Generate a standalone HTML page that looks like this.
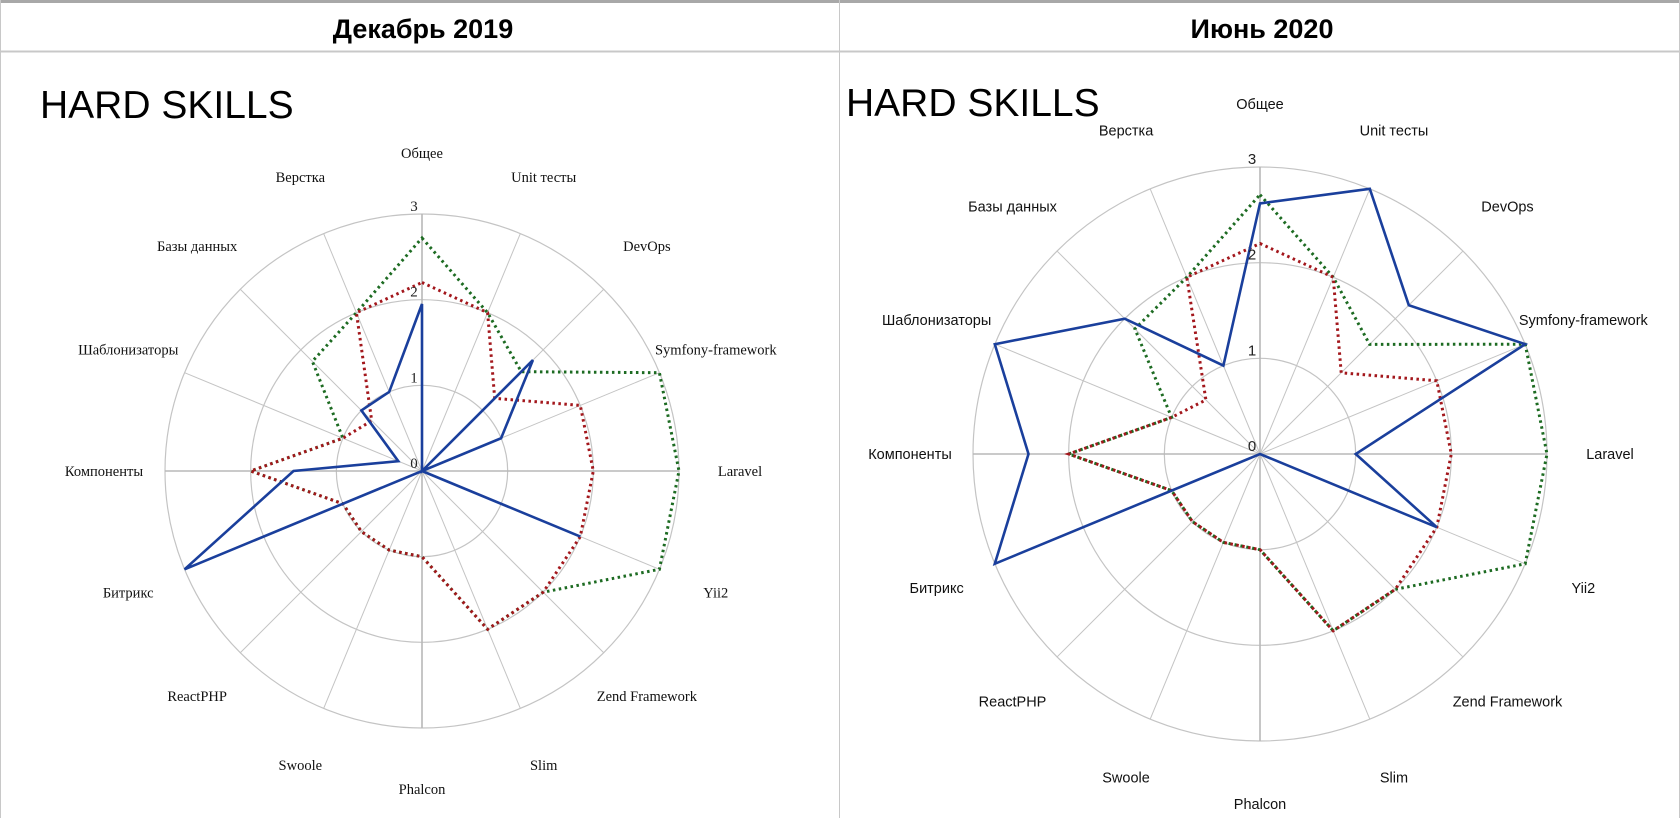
<!DOCTYPE html>
<html><head><meta charset="utf-8">
<style>
html,body{margin:0;padding:0;background:#fff;}
#wrap{position:relative;width:1680px;height:818px;overflow:hidden;background:#fff;}
</style></head>
<body>
<div id="wrap">
<svg id="svg" width="1680" height="818" xmlns="http://www.w3.org/2000/svg">
  <rect x="0" y="0" width="1680" height="3" fill="#a8a8a8"/>
  <line x1="0.5" y1="0" x2="0.5" y2="818" stroke="#c8c8c8"/>
  <line x1="1679.5" y1="0" x2="1679.5" y2="818" stroke="#c8c8c8"/>
  <line x1="0" y1="51.5" x2="1680" y2="51.5" stroke="#c8c8c8" stroke-width="2"/>
  <line x1="839.5" y1="0" x2="839.5" y2="818" stroke="#c8c8c8"/>
  <text x="423" y="38" text-anchor="middle" font-family="'Liberation Sans',sans-serif" font-weight="bold" font-size="27" fill="#000">Декабрь 2019</text>
  <text x="1262" y="38" text-anchor="middle" font-family="'Liberation Sans',sans-serif" font-weight="bold" font-size="27" fill="#000">Июнь 2020</text>
  <text x="40" y="118" font-family="'Liberation Sans',sans-serif" font-size="39" fill="#000">HARD SKILLS</text>
  <text x="846" y="116" font-family="'Liberation Sans',sans-serif" font-size="39" fill="#000">HARD SKILLS</text>
  <g id="left"></g>
  <g id="right"></g>
</svg>
</div>
<script>
const categories = ["Общее","Unit тесты","DevOps","Symfony-framework","Laravel","Yii2","Zend Framework","Slim","Phalcon","Swoole","ReactPHP","Битрикс","Компоненты","Шаблонизаторы","Базы данных","Верстка"];
const tickValues = [0,1,2,3];
const leftBlue  = [1.95,0,1.83,1,0,2,0,0,0,0,0,3,1.5,0.3,1,1];
const leftRed   = [2.2,2,1.2,2,2,2,2,2,1,1,1,1,2,1,0.83,2];
const leftGreen = [2.72,2,1.64,3,3,3,2,2,1,1,1,1,2,1,1.81,2];
const rightBlue  = [2.62,3,2.2,3,1,2,0,0,0,0,0,3,2.42,3,2,1];
const rightRed   = [2.2,2,1.2,2,2,2,2,2,1,1,1,1,2,1,0.8,2];
const rightGreen = [2.71,2,1.62,3,3,3,2,2,1,1,1,1,2,1,1.85,2];

const NS = "http://www.w3.org/2000/svg";
function mk(tag, attrs, parent){
  const e = document.createElementNS(NS, tag);
  for (const k in attrs) e.setAttribute(k, attrs[k]);
  parent.appendChild(e);
  return e;
}
function drawRadar(g, cx, cy, R, labelR, font, series){
  const maxV = 3;
  const n = categories.length;
  const ang = i => i * 2 * Math.PI / n;
  const pt = (i, v) => [cx + Math.sin(ang(i)) * R * v / maxV, cy - Math.cos(ang(i)) * R * v / maxV];
  tickValues.forEach(t => {
    if (t === 0) return;
    const c = mk("circle", {cx: cx, cy: cy, r: R * t / maxV, fill: "none", stroke: "#c4c4c4", "stroke-width": 1.2}, g);
    
    
  });
  categories.forEach((c, i) => {
    const [x, y] = pt(i, maxV);
    const l = mk("line", {x1: cx, y1: cy, x2: x, y2: y, stroke: i % 4 === 0 ? "#b8b8b8" : "#c4c4c4", "stroke-width": i % 4 === 0 ? 1.6 : 1}, g);
    
    
    const lx = cx + Math.sin(ang(i)) * labelR, ly = cy - Math.cos(ang(i)) * labelR;
    const tx = mk("text", {x: lx, y: ly + 5, "text-anchor": "middle", "font-family": font, "font-size": 14.5, fill: "#111"}, g);
    tx.textContent = c;
    
    
  });
  series.forEach(s => {
    const pts = s.values.map((v, i) => pt(i, v).map(q => q.toFixed(1)).join(",")).join(" ");
    const p = mk("polygon", {points: pts, fill: "none", stroke: s.color, "stroke-width": s.dash ? 3 : 2.6, "stroke-linejoin": "miter"}, g);
    if (s.dash) { p.setAttribute("stroke-dasharray", "2.5 3.5"); }
    
    
  });
  tickValues.forEach(t => {
    const tt = mk("text", {x: cx - 8, y: cy - R * t / maxV - 3, "text-anchor": "middle", "font-family": font, "font-size": 15, fill: "#222"}, g);
    tt.textContent = String(t);
    
    
  });
}
drawRadar(document.getElementById("left"), 422, 471, 257, 318, "'Liberation Serif',serif", [
  {name: "series-green-dotted", values: leftGreen, color: "#1d6b22", dash: true},
  {name: "series-red-dotted", values: leftRed, color: "#a3171c", dash: true},
  {name: "series-blue", values: leftBlue, color: "#1a3f9c", dash: false}
]);
drawRadar(document.getElementById("right"), 1260, 454, 287, 350, "'Liberation Sans',sans-serif", [
  {name: "series-green-dotted", values: rightGreen, color: "#1d6b22", dash: true},
  {name: "series-red-dotted", values: rightRed, color: "#a3171c", dash: true},
  {name: "series-blue", values: rightBlue, color: "#1a3f9c", dash: false}
]);
</script>
</body></html>
